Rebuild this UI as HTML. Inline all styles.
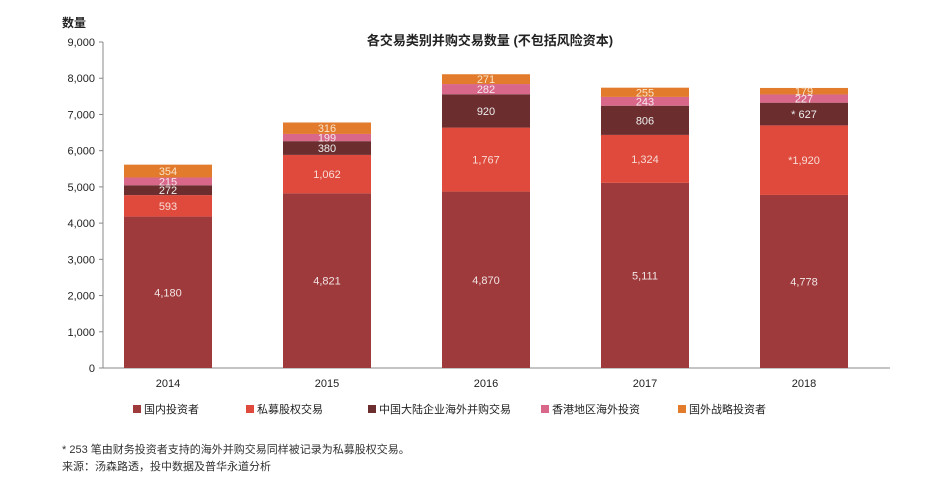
<!DOCTYPE html>
<html><head><meta charset="utf-8"><style>
body{margin:0;background:#fff;font-family:"Liberation Sans","Noto Sans CJK SC",sans-serif;}
svg text{font-family:"Liberation Sans","Noto Sans CJK SC",sans-serif;}
</style></head><body>
<svg id="chart" width="936" height="484" xmlns="http://www.w3.org/2000/svg">
<text x="62" y="27" font-size="12" font-weight="bold" fill="#222">数量</text>
<text x="490" y="45" font-size="13" font-weight="bold" text-anchor="middle" fill="#222">各交易类别并购交易数量 (不包括风险资本)</text>
<g id="axes"></g><g id="bars"></g><g id="legend"></g>
<text x="62" y="453" font-size="11" fill="#333">* 253 笔由财务投资者支持的海外并购交易同样被记录为私募股权交易。</text>
<text x="62" y="470" font-size="11" fill="#333">来源：汤森路透，投中数据及普华永道分析</text>
</svg>
<script>
const categories=["2014","2015","2016","2017","2018"];
const seriesNames=["国内投资者","私募股权交易","中国大陆企业海外并购交易","香港地区海外投资","国外战略投资者"];
const domestic=[4180,4821,4870,5111,4778];
const privateEquity=[593,1062,1767,1324,1920];
const mainlandOutbound=[272,380,920,806,627];
const hongKong=[215,199,282,243,227];
const foreignStrategic=[354,316,271,255,179];
const yTicks=[0,1000,2000,3000,4000,5000,6000,7000,8000,9000];
const labelPrefix=[["","","","",""],["","","","","*"],["","","","","* "],["","","","",""],["","","","",""]];
const colors=["#9e3a3b","#e04a3c","#6b2d2e","#d9678a","#e27b2c"];
const textColors=["#f2e4e4","#f6dcd6","#eee","#f6e6ee","#f9e3c8"];
const series=[domestic,privateEquity,mainlandOutbound,hongKong,foreignStrategic];
const NS="http://www.w3.org/2000/svg";
const y0=368,y1=42,xL=103,xR=890,step=159,first=168,bw=88;
const y=v=>y0-(v/9000)*(y0-y1);
const x=i=>first+i*step;
function mk(tag,attrs,parent){const e=document.createElementNS(NS,tag);for(const k in attrs)e.setAttribute(k,attrs[k]);parent.appendChild(e);return e;}
const axes=document.getElementById('axes'),bars=document.getElementById('bars'),legend=document.getElementById('legend');
const yl=mk('line',{x1:xL,x2:xL,y1:y1,y2:y0,stroke:'#888','stroke-width':1},axes);


const xl=mk('line',{x1:xL,x2:xR,y1:y0,y2:y0,stroke:'#888','stroke-width':1},axes);


yTicks.forEach(t=>{
  mk('line',{x1:xL-4,x2:xL,y1:y(t),y2:y(t),stroke:'#888'},axes);
  const tx=mk('text',{x:xL-8,y:y(t)+4,'font-size':11,'text-anchor':'end',fill:'#222'},axes);
  tx.textContent=t.toLocaleString('en-US');
  
  
});
categories.forEach((c,i)=>{
  let acc=0;
  series.forEach((s,j)=>{
    const v=s[i];const top=y(acc+v),bot=y(acc);
    const r=mk('rect',{x:x(i)-bw/2,y:top,width:bw,height:bot-top,fill:colors[j]},bars);
    
    
    const t=mk('text',{x:x(i),y:(top+bot)/2+4,'font-size':11,'text-anchor':'middle',fill:textColors[j]},bars);
    t.textContent=labelPrefix[j][i]+v.toLocaleString('en-US');
    
    
    acc+=v;
  });
  const tl=mk('text',{x:x(i),y:387,'font-size':11,'text-anchor':'middle',fill:'#222'},bars);
  tl.textContent=c;
  
  
});
const lx=[133,246,368,541,678];
seriesNames.forEach((n,j)=>{
  const g=mk('g',{},legend);
  
  
  mk('rect',{x:lx[j],y:405,width:8,height:8,fill:colors[j]},g);
  const t=mk('text',{x:lx[j]+11,y:413,'font-size':11,fill:'#222'},g);
  t.textContent=n;
});
</script>
</body></html>
